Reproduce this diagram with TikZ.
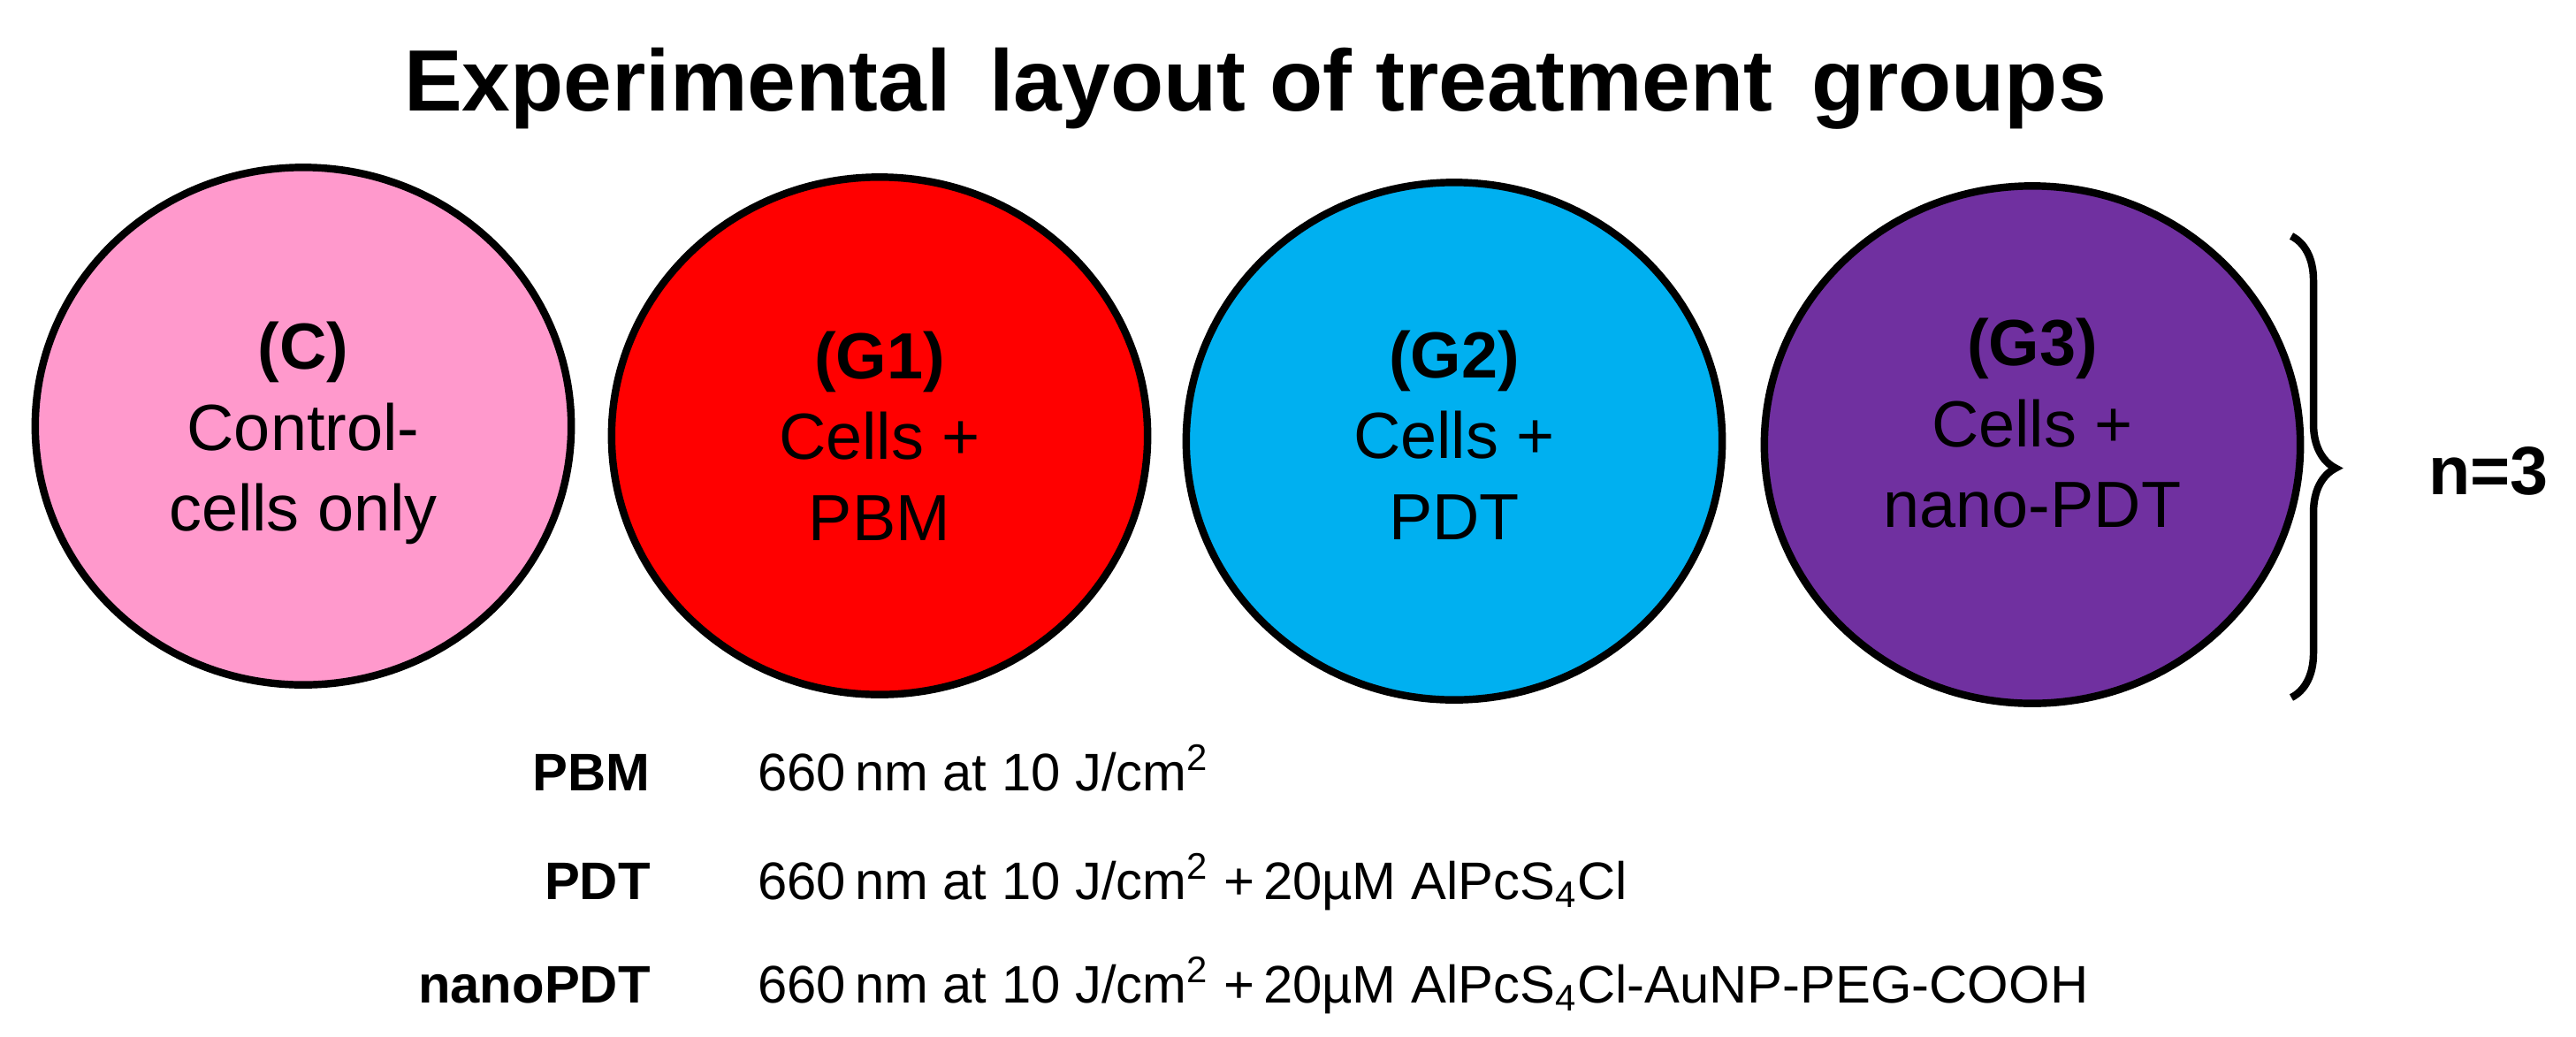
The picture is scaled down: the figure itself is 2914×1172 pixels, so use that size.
\documentclass[tikz,border=0pt]{standalone}
\usepackage{fontspec}
\setmainfont{Liberation Sans}
\usetikzlibrary{decorations.pathreplacing,shapes.geometric}
\definecolor{cpink}{HTML}{FF99CC}
\definecolor{cred}{HTML}{FF0000}
\definecolor{ccyan}{HTML}{00B0F0}
\definecolor{cpurple}{HTML}{7030A0}
\tikzset{grp/.style={ellipse,draw=black,line width=2.4pt,minimum width=6.06cm,minimum height=5.85cm,inner sep=0pt},
gtxt/.style={align=center,font=\fontsize{21}{26}\selectfont},
lbl/.style={anchor=base east,font=\bfseries\fontsize{17}{20}\selectfont},
val/.style={anchor=base west,font=\fontsize{17}{20}\selectfont}}
\begin{document}
\begin{tikzpicture}[x=0.01cm,y=-0.01cm]
\useasboundingbox (0,0) rectangle (2914,1172);
\node[font=\bfseries\fontsize{28}{30}\selectfont] (title) at (1420,100) {Experimental\, layout of treatment\, groups};
\node[grp,fill=cpink] (c) at (343,482) {};
\node[grp,fill=cred] (g1) at (995,493) {};
\node[grp,fill=ccyan] (g2) at (1645,499) {};
\node[grp,fill=cpurple] (g3) at (2299,503) {};
\node[gtxt] (tc) at (343,490) {\textbf{(C)}\\Control-\\cells only};
\node[gtxt] (t1) at (995,493) {\textbf{(G1)}\\Cells +\\PBM};
\node[gtxt] (t2) at (1645,492) {\textbf{(G2)}\\Cells +\\PDT};
\node[gtxt] (t3) at (2299,479) {\textbf{(G3)}\\Cells +\\nano-PDT};
\coordinate (bt) at (2592,267);
\coordinate (bb) at (2592,789);
\draw[line width=2.4pt,decorate,decoration={brace,amplitude=0.5cm,aspect=0.503}] (bt) -- (bb);
\node[anchor=west,font=\bfseries\fontsize{22}{24}\selectfont] (n) at (2735,533) {n=3};
\node[lbl] (l1) at (748,894) {PBM};
\node[val] (v1) at (845,894) {660\,nm at 10 J/cm\textsuperscript{2}};
\node[lbl] (l2) at (748,1017) {PDT};
\node[val] (v2) at (845,1017) {660\,nm at 10 J/cm\textsuperscript{2} +\,20µM AlPcS\textsubscript{4}Cl};
\node[lbl] (l3) at (748,1134) {nanoPDT};
\node[val] (v3) at (845,1134) {660\,nm at 10 J/cm\textsuperscript{2} +\,20µM AlPcS\textsubscript{4}Cl-AuNP-PEG-COOH};
\end{tikzpicture}
\end{document}
